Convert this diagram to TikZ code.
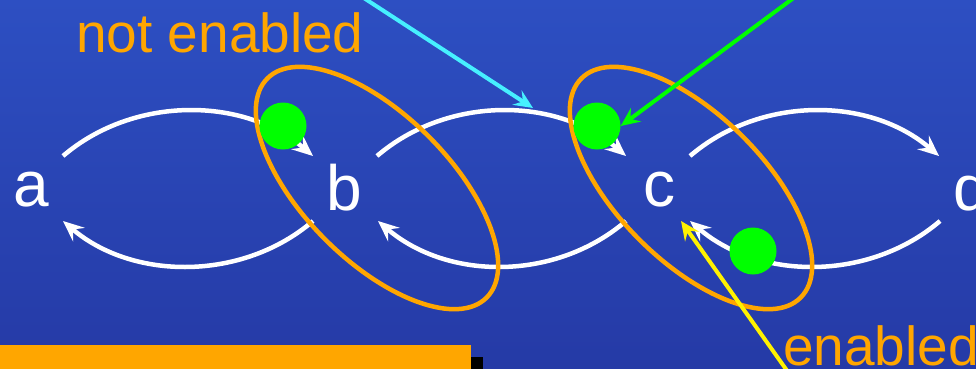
\documentclass[tikz,border=0pt]{standalone}
\usepackage{fontspec}
\setmainfont{Liberation Sans}
\usetikzlibrary{arrows.meta}
\definecolor{bgtop}{RGB}{45,79,194}
\definecolor{bgbot}{RGB}{37,58,166}
\definecolor{ora}{RGB}{255,166,0}
\definecolor{cya}{RGB}{70,240,255}
\definecolor{grn}{RGB}{0,255,0}
\definecolor{yel}{RGB}{255,242,0}
\begin{document}
\begin{tikzpicture}[x=1pt,y=-1pt,
  state/.style={text=white, font=\fontsize{64}{64}\selectfont, inner sep=0pt, anchor=base},
  flow/.style={white, line width=4.5pt, -{Stealth[length=21pt,width=18pt,inset=8pt]}},
  ring/.style={draw=ora, line width=4.5pt},
  token/.style={circle, fill=grn, minimum size=47pt, inner sep=0pt},
  pointer/.style={line width=4pt, -{Stealth[length=19pt,width=17pt,inset=7pt]}},
  lbl/.style={text=ora, font=\fontsize{55}{55}\selectfont, inner sep=0pt, anchor=base west}]
\useasboundingbox (0,0) rectangle (976,368);
\clip (0,0) rectangle (976,368);
\shade[top color=bgtop, bottom color=bgbot] (0,0) rectangle (976,368);

% states
\node[state] (a) at (31,206) {a};
\node[state] (b) at (344,210) {b};
\node[state] (c) at (659,206) {c};
\node[state] (d) at (971,210) {d};

% arc end points
\coordinate (a1) at (63,156);  \coordinate (b0) at (313,156);
\coordinate (b2) at (313,221); \coordinate (a2) at (63,221);
\coordinate (b1) at (377,156); \coordinate (c0) at (626,156);
\coordinate (c2) at (626,221); \coordinate (b3) at (378,221);
\coordinate (c1) at (690,156); \coordinate (d0) at (939,156);
\coordinate (d2) at (940,221); \coordinate (c3) at (690,221);

\draw[flow] (a1) .. controls +(70,-60) and +(-70,-60) .. (b0);
\draw[flow] (b2) .. controls +(-70,60) and +(70,60) .. (a2);
\draw[flow] (b1) .. controls +(70,-60) and +(-70,-60) .. (c0);
\draw[flow] (c2) .. controls +(-70,60) and +(70,60) .. (b3);
\draw[flow] (c1) .. controls +(70,-60) and +(-70,-60) .. (d0);
\draw[flow] (d2) .. controls +(-70,60) and +(70,60) .. (c3);

% rings
\coordinate (e1) at (377,188);
\coordinate (e2) at (691,188);
\draw[ring, rotate around={-45:(e1)}] (e1) ellipse [x radius=155pt, y radius=73pt];
\draw[ring, rotate around={-45:(e2)}] (e2) ellipse [x radius=155pt, y radius=73pt];

% tokens
\node[token] (t1) at (283,126) {};
\node[token] (t2) at (597,126) {};
\node[token] (t3) at (753,251) {};

% pointers
\coordinate (cs) at (330,-24); \coordinate (ct) at (533,108);
\coordinate (gs) at (830,-29);
\coordinate (ys) at (800,389); \coordinate (yt) at (681,221);
\draw[pointer, cya] (cs) -- (ct);
\draw[pointer, grn] (gs) -- (t2.east);
\draw[pointer, yel] (ys) -- (yt);

% labels
\node[lbl] (ne) at (76,52) {not enabled};
\node[lbl] (en) at (783,365) {enabled};

% box at the bottom
\fill[black] (12,357) rectangle (483,380);
\fill[ora] (0,345) rectangle (471,380);
\end{tikzpicture}
\end{document}
